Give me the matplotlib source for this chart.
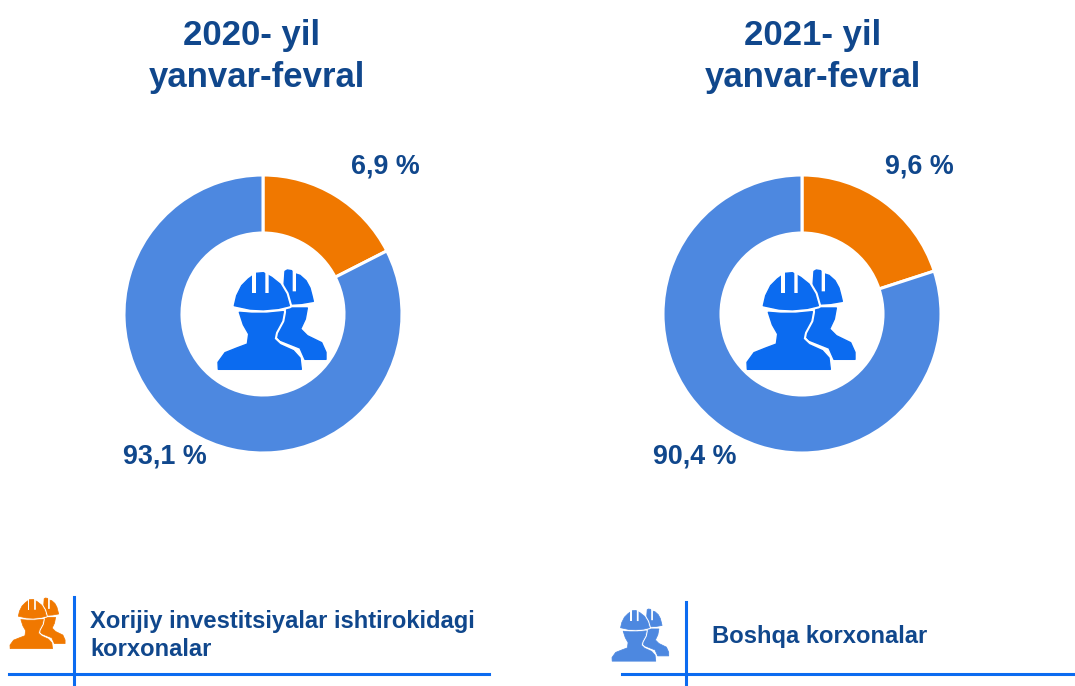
import matplotlib
matplotlib.use('Agg')
import matplotlib.pyplot as plt
from matplotlib.patches import Polygon

# qiymatlar
title_top = ['2020- yil', '2021- yil']
title_bottom = ['yanvar-fevral', 'yanvar-fevral']
# slices as they are drawn in the picture (not the same as the printed labels)
drawn_foreign = [17.5, 20.0]
drawn_other = [82.5, 80.0]
label_foreign = ['6,9 %', '9,6 %']
label_other = ['93,1 %', '90,4 %']
legend_names = ['Xorijiy investitsiyalar ishtirokidagi\nkorxonalar', 'Boshqa korxonalar']

ORANGE = '#f07800'
BLUE = '#4d88e0'
ICON = '#0b6bf0'
LINE = '#0b6bf0'
TEXT = '#10478c'

W, H = 1075, 686
plt.rcParams['font.family'] = ['Liberation Sans', 'DejaVu Sans']
fig = plt.figure(figsize=(W / 100, H / 100), dpi=100)
ax = fig.add_axes([0, 0, 1, 1])


def Y(y):
    return H - y


# icon outline, in units of the zoomed crop
back_helmet = [(255, 62), (262, 58), (275, 60), (281, 68), (300, 74), (318, 90), (330, 112), (336, 135), (340, 152),
               (305, 158), (272, 160), (262, 130), (252, 105)]
back_body = [(262, 172), (322, 172), (316, 205), (302, 235), (322, 255), (365, 276), (378, 305), (378, 326), (315, 326),
             (300, 292), (240, 268), (222, 248), (250, 205)]
front_helmet = [(103, 165), (110, 135), (125, 105), (145, 85), (168, 68), (190, 66), (215, 80), (240, 100), (258, 130),
                (268, 165), (235, 173), (190, 177), (150, 175)]
front_body = [(118, 185), (155, 188), (200, 188), (250, 183), (245, 210), (226, 245), (222, 265), (240, 282), (280, 300),
              (300, 322), (304, 356), (55, 356), (54, 335), (75, 306), (110, 292), (142, 280), (146, 250), (130, 222)]
slots = [[(157, 62), (167, 62), (167, 127), (157, 127)], [(196, 62), (206, 70), (206, 127), (196, 127)],
         [(278, 58), (288, 62), (288, 122), (278, 122)]]


def draw_icon(x0, y0, scale, color):
    # x0, y0 = left top of the icon box in picture pixels
    def conv(pts):
        return [(x0 + (x - 54) * scale, Y(y0 + (y - 58) * scale)) for x, y in pts]

    edge = 3.0 * scale
    halo = 12 * scale
    for shape in (back_helmet, back_body):
        ax.add_patch(Polygon(conv(shape), closed=True, fc=color, ec=color, lw=edge, joinstyle='round', zorder=5))
    for shape in (front_helmet, front_body):
        ax.add_patch(Polygon(conv(shape), closed=True, fc='white', ec='white', lw=halo, joinstyle='round', zorder=6))
    for shape in (front_helmet, front_body):
        ax.add_patch(Polygon(conv(shape), closed=True, fc=color, ec=color, lw=edge, joinstyle='round', zorder=7))
    for s in slots:
        ax.add_patch(Polygon(conv(s), closed=True, fc='white', ec='none', zorder=8))


centers = [(263, 314), (802, 314)]
top_x = [252, 813]
bottom_x = [257, 813]
foreign_xy = [(385.5, 167), (919, 167)]
other_xy = [(165, 456.5), (694.5, 456.5)]

for i in range(2):
    cx, cy = centers[i]
    ax.pie([drawn_foreign[i], drawn_other[i]], colors=[ORANGE, BLUE], startangle=90, counterclock=False,
           radius=139, center=(cx, Y(cy)), wedgeprops=dict(width=58, edgecolor='white', linewidth=2.2))
    ax.text(top_x[i], Y(35), title_top[i], ha='center', va='center', fontsize=25, fontweight='bold', color=TEXT)
    ax.text(bottom_x[i], Y(77), title_bottom[i], ha='center', va='center', fontsize=25, fontweight='bold', color=TEXT)
    ax.text(foreign_xy[i][0], Y(foreign_xy[i][1]), label_foreign[i], ha='center', va='center', fontsize=19.4,
            fontweight='bold', color=TEXT)
    ax.text(other_xy[i][0], Y(other_xy[i][1]), label_other[i], ha='center', va='center', fontsize=19.4,
            fontweight='bold', color=TEXT)

draw_icon(218, 270, 1 / 3, ICON)
draw_icon(747, 270, 1 / 3, ICON)
draw_icon(10, 598, 0.17, ORANGE)
draw_icon(612, 609, 0.175, BLUE)

# legend
ax.plot([74, 74], [Y(597), Y(686)], color=LINE, lw=2.2, zorder=3)
ax.plot([9, 489], [Y(674), Y(674)], color=LINE, lw=2.2, zorder=3)
ax.plot([686, 686], [Y(602), Y(686)], color=LINE, lw=2.2, zorder=3)
ax.plot([622, 1075], [Y(674), Y(674)], color=LINE, lw=2.2, zorder=3)
ax.text(90, Y(635.5), legend_names[0], ha='left', va='center', fontsize=17.1, fontweight='bold', color=TEXT,
        linespacing=1.32)
ax.text(712, Y(637), legend_names[1], ha='left', va='center', fontsize=17.1, fontweight='bold', color=TEXT)

ax.set_xlim(0, W)
ax.set_ylim(0, H)
ax.set_aspect('auto')
ax.axis('off')
fig.savefig('out.png', dpi=100)
